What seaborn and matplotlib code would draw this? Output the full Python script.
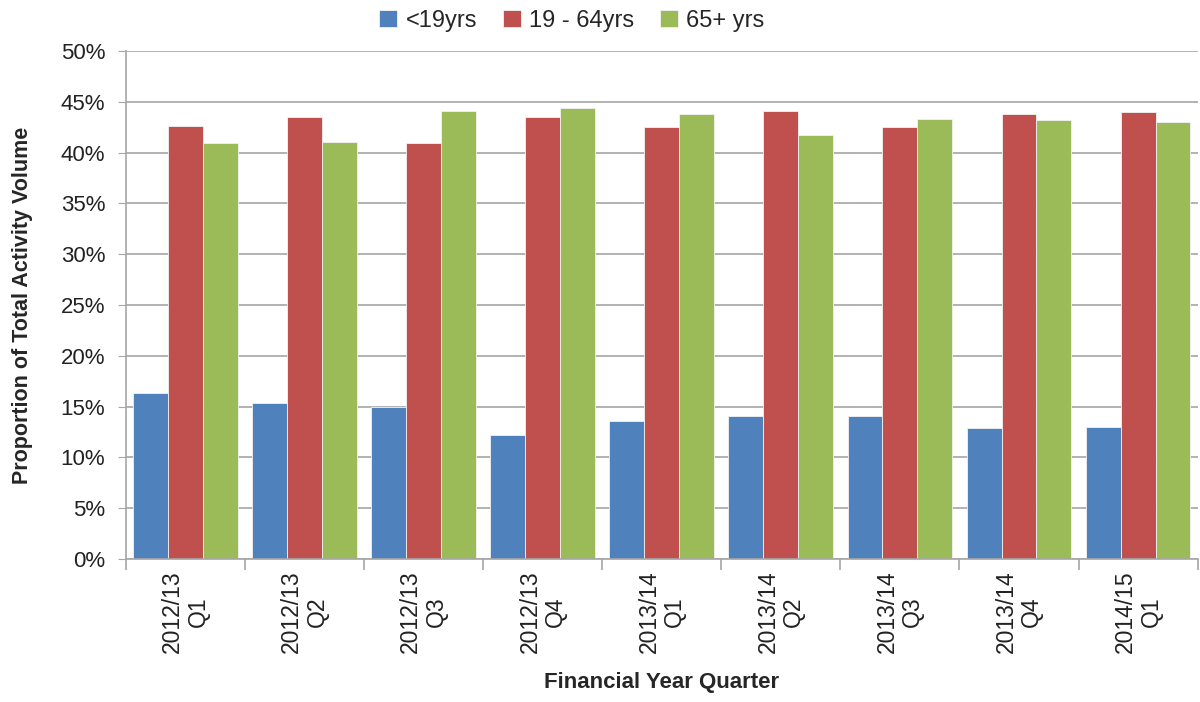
import matplotlib
matplotlib.use("Agg")
import matplotlib.pyplot as plt
from matplotlib.ticker import FixedLocator, PercentFormatter
import seaborn as sns
import pandas as pd

quarters = ["2012/13\nQ1", "2012/13\nQ2", "2012/13\nQ3", "2012/13\nQ4",
            "2013/14\nQ1", "2013/14\nQ2", "2013/14\nQ3", "2013/14\nQ4",
            "2014/15\nQ1"]
age_groups = ["<19yrs", "19 - 64yrs", "65+ yrs"]
under_19 = [16.3, 15.4, 15.0, 12.2, 13.6, 14.1, 14.1, 12.9, 13.0]
age_19_64 = [42.6, 43.5, 40.9, 43.5, 42.5, 44.1, 42.5, 43.8, 44.0]
over_65 = [40.9, 41.0, 44.1, 44.4, 43.8, 41.7, 43.3, 43.2, 43.0]
colors = ["#4F81BD", "#C0504D", "#9BBB59"]

rows = []
for group, values in zip(age_groups, [under_19, age_19_64, over_65]):
    for q, v in zip(quarters, values):
        rows.append({"Quarter": q, "Group": group, "Value": v})
df = pd.DataFrame(rows)

sns.set_style("white")
plt.rcParams["font.family"] = ["Liberation Sans", "DejaVu Sans"]

fig = plt.figure(figsize=(12, 7.02), dpi=100)
ax = fig.add_axes([0.105, 0.2037, 0.893, 0.7237])

sns.barplot(data=df, x="Quarter", y="Value", hue="Group", order=quarters,
            hue_order=age_groups, palette=colors, width=0.88, gap=0,
            edgecolor="#f2f2f2", linewidth=0.6, saturation=1, ax=ax,
            errorbar=None)

ax.set_ylim(0, 50)
ax.set_xlim(-0.5, len(quarters) - 0.5)
ax.yaxis.set_major_locator(FixedLocator(range(0, 51, 5)))
ax.yaxis.set_major_formatter(PercentFormatter(decimals=0))
ax.grid(axis="y", color="#a6a6a6", linewidth=1.2)
ax.set_axisbelow(True)

for side in ["top", "right"]:
    ax.spines[side].set_visible(False)
for side in ["left", "bottom"]:
    ax.spines[side].set_color("#a6a6a6")
    ax.spines[side].set_linewidth(1.2)

ax.tick_params(axis="y", which="major", length=6, color="#a6a6a6",
               labelsize=16, labelcolor="#222222", direction="out", left=True,
               pad=9)
ax.tick_params(axis="x", which="major", length=0, labelsize=16.5,
               labelcolor="#222222", pad=8)
ax.xaxis.set_minor_locator(FixedLocator([i - 0.5 for i in range(len(quarters) + 1)]))
ax.tick_params(axis="x", which="minor", length=8, color="#a6a6a6",
               width=1.2, direction="out", bottom=True)
for lbl in ax.get_xticklabels():
    lbl.set_rotation(90)
    lbl.set_ha("center")
    lbl.set_va("top")
    lbl.set_multialignment("center")
    lbl.set_linespacing(1.15)

ax.set_xlabel("Financial Year Quarter", fontsize=16, fontweight="bold", labelpad=14)
ax.set_ylabel("Proportion of Total Activity Volume", fontsize=15.5,
              fontweight="bold", labelpad=20)

ax.legend(loc="lower center", bbox_to_anchor=(0.416, 1.0), ncol=3, frameon=False,
          fontsize=17, handlelength=0.75, handleheight=0.75, handletextpad=0.35,
          columnspacing=1.1, borderaxespad=0.4)

fig.savefig("out.png", dpi=100)
